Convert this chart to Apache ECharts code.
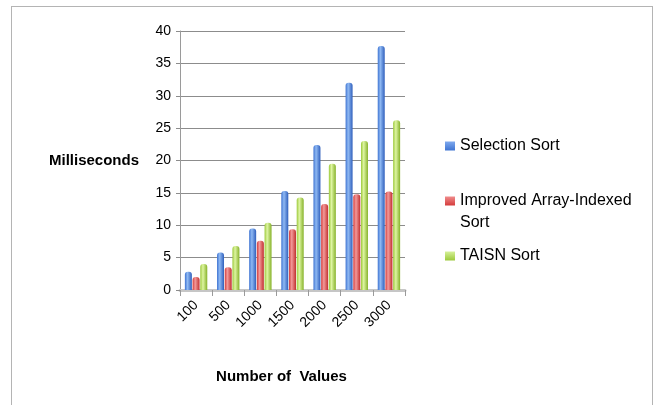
<!DOCTYPE html>
<html>
<head>
<meta charset="utf-8">
<script src="https://cdn.jsdelivr.net/npm/echarts@6/dist/echarts.min.js"></script>
<style>
  html, body { margin: 0; padding: 0; background: #fff; }
  #wrap { position: relative; width: 660px; height: 405px; overflow: hidden; }
  #frame { position: absolute; left: 11px; top: 6px; width: 642px; height: 430px; border: 1px solid #b4b4b4; box-sizing: border-box; }
  #chart { position: absolute; left: 0; top: 0; width: 660px; height: 405px; }
</style>
</head>
<body>
<div id="wrap">
  <div id="frame"></div>
  <div id="chart"></div>
</div>
<script>
// Sort timings (ms) by input size
const categories = ['100', '500', '1000', '1500', '2000', '2500', '3000'];
const selectionSort = [2.8, 5.8, 9.5, 15.3, 22.4, 32, 37.7];
const improvedArrayIndexed = [2.0, 3.5, 7.6, 9.4, 13.3, 14.8, 15.2];
const taisnSort = [4.0, 6.8, 10.4, 14.3, 19.5, 23, 26.2];
const seriesNames = ['Selection Sort', 'Improved Array-Indexed\nSort', 'TAISN Sort'];

const FONT = '"Liberation Sans", Arial, sans-serif';

// cylinder-like shading across each column
function shade(dark, light, edge) {
  return new echarts.graphic.LinearGradient(0, 0, 1, 0, [
    { offset: 0, color: dark },
    { offset: 0.38, color: light },
    { offset: 1, color: edge }
  ]);
}

// flat swatch shading for the legend keys
function swatch(light, dark) {
  return new echarts.graphic.LinearGradient(0, 0, 0, 1, [
    { offset: 0, color: light },
    { offset: 1, color: dark }
  ]);
}

const palette = [
  shade('#3f74d2', '#8fb9f3', '#2f5fbc'),
  shade('#d43b3b', '#f29a9a', '#c22f2f'),
  shade('#9cc93a', '#def5a2', '#86b22a')
];
const swatches = [
  swatch('#7fa9ee', '#3f74d2'),
  swatch('#f08c8c', '#d43b3b'),
  swatch('#d6f19a', '#9cc93a')
];

const values = [selectionSort, improvedArrayIndexed, taisnSort];

const chart = echarts.init(document.getElementById('chart'), null, { renderer: 'canvas' });
chart.setOption({
  animation: false,
  textStyle: { fontFamily: FONT },
  grid: { left: 180, right: 255, top: 31, bottom: 115 },
  legend: {
    orient: 'vertical',
    left: 440,
    top: 130,
    itemWidth: 10,
    itemHeight: 9,
    itemGap: 11,
    icon: 'rect',
    textStyle: { fontFamily: FONT, fontSize: 16, color: '#000', lineHeight: 22 },
    formatter: function (name) {
      // keep the swatch level with the first line of a two-line label
      return name.indexOf('\n') >= 0 ? '\n' + name : name;
    },
    data: seriesNames.map(function (name, i) {
      return { name: name, itemStyle: { color: swatches[i], borderRadius: 0 } };
    })
  },
  xAxis: {
    type: 'category',
    data: categories,
    name: 'Number of  Values',
    nameLocation: 'middle',
    nameGap: 79,
    nameTextStyle: { fontFamily: FONT, fontSize: 15, fontWeight: 'bold', color: '#000', padding: [0, 22, 0, 0] },
    axisLine: { lineStyle: { color: '#c6c6c6', width: 3 } },
    axisTick: { show: true, alignWithLabel: false, length: 6, lineStyle: { color: '#9a9a9a' } },
    axisLabel: { rotate: 45, fontSize: 14, color: '#000', margin: 13, fontFamily: FONT }
  },
  yAxis: {
    type: 'value',
    min: 0,
    max: 40,
    interval: 5,
    name: 'Milliseconds',
    nameLocation: 'middle',
    nameRotate: 0,
    nameGap: 41,
    nameTextStyle: { fontFamily: FONT, fontSize: 15, fontWeight: 'bold', color: '#000' },
    axisLine: { show: true, lineStyle: { color: '#9a9a9a' } },
    axisTick: { show: true, length: 4, lineStyle: { color: '#8c8c8c' } },
    axisLabel: { fontSize: 14, color: '#000', margin: 9, fontFamily: FONT },
    splitLine: { lineStyle: { color: '#8c8c8c', width: 1 } }
  },
  series: seriesNames.map(function (name, i) {
    return {
      name: name,
      type: 'bar',
      data: values[i],
      barWidth: 7,
      barGap: '10%',
      itemStyle: { color: palette[i], borderRadius: [3, 3, 0, 0] }
    };
  })
});
</script>
</body>
</html>
